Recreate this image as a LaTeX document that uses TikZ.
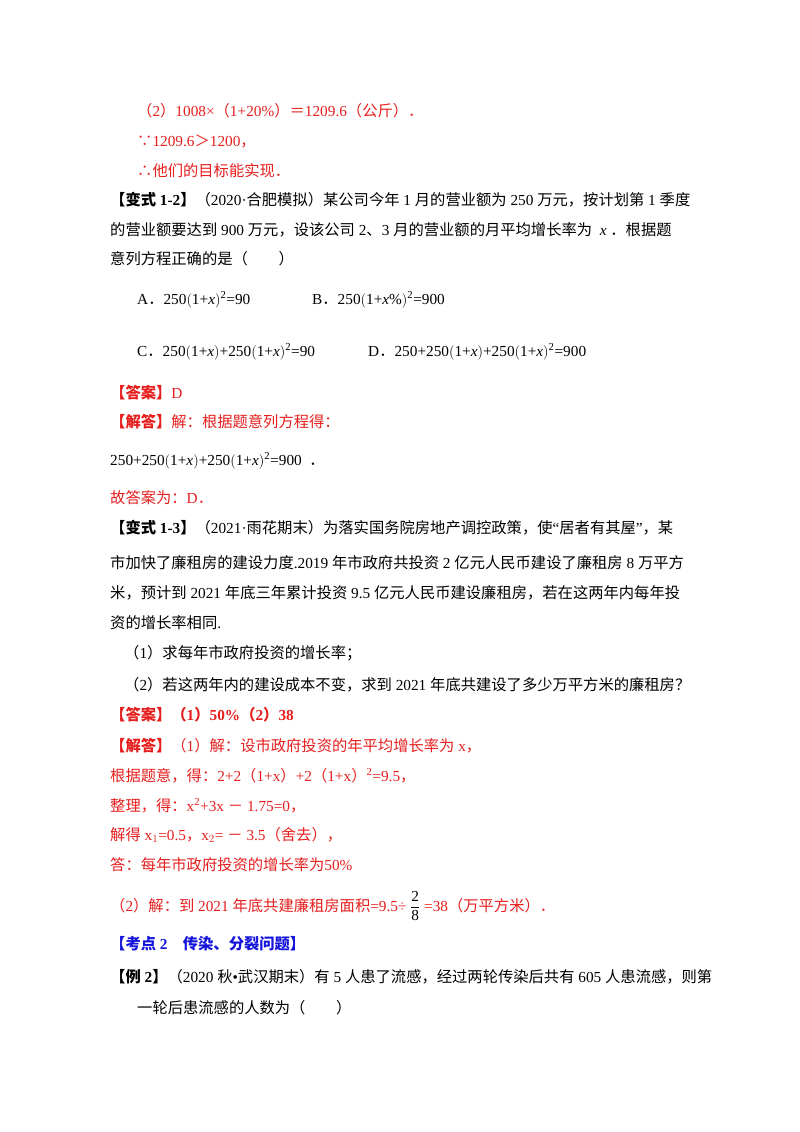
\documentclass[tikz,border=0pt]{standalone}
\usepackage{fontspec}
\setmainfont{Liberation Serif}
\newfontfamily\cjk{Noto Sans CJK SC}
\XeTeXinterchartokenstate=1
\newXeTeXintercharclass\cjkcls
\newcount\cc
\cc="4E00 \loop\ifnum\cc<"A000 \XeTeXcharclass\cc=\cjkcls \advance\cc 1 \repeat
\cc="3000 \loop\ifnum\cc<"3040 \XeTeXcharclass\cc=\cjkcls \advance\cc 1 \repeat
\cc="FF00 \loop\ifnum\cc<"FFF0 \XeTeXcharclass\cc=\cjkcls \advance\cc 1 \repeat
\XeTeXcharclass"2234=\cjkcls \XeTeXcharclass"2235=\cjkcls
\XeTeXinterchartoks 0 \cjkcls={\cjk}
\XeTeXinterchartoks 4095 \cjkcls={\cjk}
\XeTeXinterchartoks \cjkcls 0={\rmfamily}
\XeTeXinterchartoks \cjkcls 4095={\rmfamily}
\definecolor{rd}{RGB}{230,30,30}
\definecolor{bl}{RGB}{20,20,220}
\newcommand{\xx}{\textit{x}}
\newcommand{\lp}{$\bigl($}
\newcommand{\rp}{$\bigr)$}
\begin{document}
\begin{tikzpicture}[x=1pt,y=-1pt,t/.style={anchor=base west,inner sep=0pt,font=\fontsize{15.3}{17}\selectfont}]
\useasboundingbox (0,0) rectangle (800,1132);
\node[t,rd] (l1) at (137,116) {（2）1008×（1+20\%）＝1209.6（公斤）．};
\node[t,rd] (l2) at (137,146) {∵1209.6＞1200，};
\node[t,rd] (l3) at (137,176) {∴他们的目标能实现．};
\node[t] (l4) at (110,205) {\textbf{【变式 1-2】}（2020·合肥模拟）某公司今年 1 月的营业额为 250 万元，按计划第 1 季度};
\node[t] (l5) at (110,235) {的营业额要达到 900 万元，设该公司 2、3 月的营业额的月平均增长率为 \ \xx\ ．根据题};
\node[t] (l6) at (110,264) {意列方程正确的是（　　）};
\node[t] (a) at (137,304) {A．250\lp1+\xx\rp\textsuperscript{2}=90};
\node[t] (b) at (312,304) {B．250\lp1+\xx\%\rp\textsuperscript{2}=900};
\node[t] (c) at (137,356) {C．250\lp1+\xx\rp+250\lp1+\xx\rp\textsuperscript{2}=90};
\node[t] (d) at (368,356) {D．250+250\lp1+\xx\rp+250\lp1+\xx\rp\textsuperscript{2}=900};
\node[t,rd] (ans1) at (110,398) {\textbf{【答案】}D};
\node[t,rd] (sol1) at (110,427) {\textbf{【解答】}解：根据题意列方程得：};
\node[t] (eq1) at (110,465) {250+250\lp1+\xx\rp+250\lp1+\xx\rp\textsuperscript{2}=900\ \ ．};
\node[t,rd] (l7) at (110,503) {故答案为：D．};
\node[t] (l8) at (110,533) {\textbf{【变式 1-3】}（2021·雨花期末）为落实国务院房地产调控政策，使“居者有其屋”，某};
\node[t] (l9) at (110,568) {市加快了廉租房的建设力度.2019 年市政府共投资 2 亿元人民币建设了廉租房 8 万平方};
\node[t] (l10) at (110,598) {米，预计到 2021 年底三年累计投资 9.5 亿元人民币建设廉租房，若在这两年内每年投};
\node[t] (l11) at (110,628) {资的增长率相同.};
\node[t] (l12) at (124,658) {（1）求每年市政府投资的增长率；};
\node[t] (l13) at (124,690) {（2）若这两年内的建设成本不变，求到 2021 年底共建设了多少万平方米的廉租房？};
\node[t,rd] (ans2) at (110,720) {\textbf{【答案】（1）50\%（2）38}};
\node[t,rd] (sol2) at (110,751) {\textbf{【解答】}（1）解：设市政府投资的年平均增长率为 x，};
\node[t,rd] (l14) at (110,781) {根据题意，得：2+2（1+x）+2（1+x）\textsuperscript{2}=9.5，};
\node[t,rd] (l15) at (110,811) {整理，得：x\textsuperscript{2}+3x － 1.75=0，};
\node[t,rd] (l16) at (110,840) {解得 x$_1$=0.5，x$_2$= － 3.5（舍去），};
\node[t,rd] (l17) at (110,870) {答：每年市政府投资的增长率为50\%};
\node[t,rd] (l18) at (110,911) {（2）解：到 2021 年底共建廉租房面积=9.5÷ {\color{black}$\displaystyle\frac{\mbox{2}}{\mbox{8}}$} =38（万平方米）．};
\node[t,bl] (h) at (110,949) {\textbf{【考点 2\quad 传染、分裂问题】}};
\node[t] (l19) at (110,982) {\textbf{【例 2】}（2020 秋•武汉期末）有 5 人患了流感，经过两轮传染后共有 605 人患流感，则第};
\node[t] (l20) at (137,1013) {一轮后患流感的人数为（　　）};
\end{tikzpicture}
\end{document}
